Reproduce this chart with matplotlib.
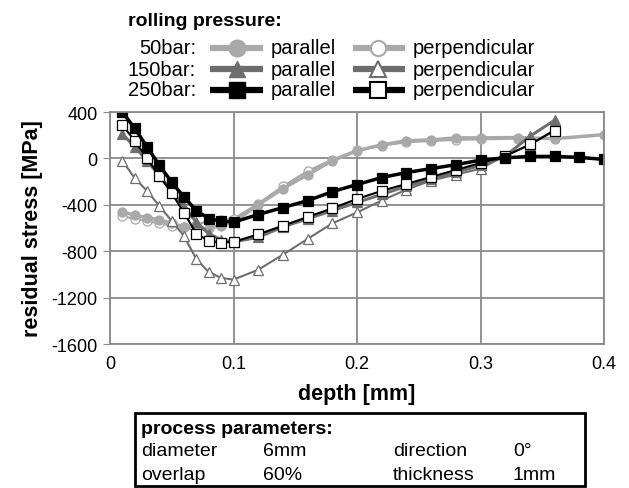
import numpy as np
import matplotlib
matplotlib.use("Agg")
import matplotlib.pyplot as plt
from matplotlib.lines import Line2D
from matplotlib.patches import Rectangle

plt.rcParams['font.family'] = ['Liberation Sans', 'DejaVu Sans']
plt.rcParams['axes.unicode_minus'] = False

# depth points [mm]
d_fine = [0.01, 0.02, 0.03, 0.04, 0.05, 0.06, 0.07, 0.08, 0.09, 0.10]
d_250_par = d_fine + [0.12, 0.14, 0.16, 0.18, 0.20, 0.22, 0.24, 0.26, 0.28, 0.30,
                      0.32, 0.34, 0.36, 0.38, 0.40]
d_to_036 = d_fine + [0.12, 0.14, 0.16, 0.18, 0.20, 0.22, 0.24, 0.26, 0.28, 0.30,
                     0.32, 0.34, 0.36]
d_50_par = d_fine + [0.12, 0.14, 0.16, 0.18, 0.20, 0.22, 0.24, 0.26, 0.28, 0.30,
                     0.33, 0.36, 0.40]
d_50_perp = d_fine + [0.12, 0.14, 0.16, 0.18, 0.20, 0.22, 0.24, 0.26, 0.28, 0.30,
                      0.33, 0.36]

# residual stress [MPa]
s_50_par = [-460, -490, -510, -530, -560, -590, -610, -600, -580, -550,
            -400, -260, -140, -20, 66, 117, 152, 160, 177, 177, 180, 170, 205]
s_50_perp = [-500, -520, -540, -560, -580, -590, -570, -540, -530, -520,
             -390, -240, -110, -10, 70, 110, 140, 150, 160, 165, 170, 175]
s_150_par = [210, 100, -20, -150, -280, -420, -550, -650, -700, -720,
             -680, -590, -520, -450, -380, -310, -240, -180, -120, -60, 20, 190, 330]
s_150_perp = [-20, -170, -280, -410, -540, -670, -870, -980, -1030, -1045,
              -960, -830, -694, -560, -466, -363, -269, -191, -140, -89, 23, 117, 246]
s_250_par = [400, 260, 100, -60, -205, -335, -450, -520, -540, -550,
             -484, -424, -364, -287, -225, -165, -122, -88, -54, -15, 5, 17, 17, 9, -9]
s_250_perp = [290, 150, 0, -150, -300, -470, -650, -710, -725, -720,
              -655, -580, -505, -430, -350, -280, -220, -160, -100, -40, 20, 120, 240]

x_ticks = [0, 0.1, 0.2, 0.3, 0.4]
x_labels = ['0', '0.1', '0.2', '0.3', '0.4']
y_ticks = [-1600, -1200, -800, -400, 0, 400]

c50 = '#a9a9a9'
c150 = '#6e6e6e'
c250 = '#000000'

# (x, y, colour, marker, fill, line width) - drawing order
series = [
    (d_50_perp, s_50_perp, c50, 'o', 'white', 1.6),
    (d_50_par, s_50_par, c50, 'o', c50, 2.5),
    (d_to_036, s_150_perp, c150, '^', 'white', 1.5),
    (d_to_036, s_150_par, c150, '^', c150, 2.2),
    (d_to_036, s_250_perp, c250, 's', 'white', 1.5),
    (d_250_par, s_250_par, c250, 's', c250, 2.5),
]

fig = plt.figure(figsize=(6.29, 4.89), dpi=100)
ax = fig.add_axes([110 / 629, 1 - 345 / 489, 494 / 629, 232 / 489])

for x, y, col, mk, fc, lw in series:
    ax.plot(x, y, color=col, lw=lw, marker=mk, ms=6.5, mfc=fc, mec=col, mew=0.9)

ax.set_xlim(0, 0.4)
ax.set_ylim(-1600, 400)
ax.set_xticks(x_ticks)
ax.set_xticklabels(x_labels)
ax.set_yticks(y_ticks)
ax.grid(True, color='#8a8a8a', lw=1.3)
ax.set_axisbelow(True)
for sp in ax.spines.values():
    sp.set_color('#8a8a8a')
    sp.set_linewidth(1.3)
ax.tick_params(axis='x', length=0, labelsize=13, pad=8)
ax.tick_params(axis='y', length=5, color='#8a8a8a', labelsize=13, pad=4)
ax.set_xlabel('depth [mm]', fontsize=15.5, fontweight='bold', labelpad=8)
ax.set_ylabel('residual stress [MPa]', fontsize=15.5, fontweight='bold', labelpad=6)

# overlay in pixel coordinates for legend and parameter box
ov = fig.add_axes([0, 0, 1, 1])
ov.set_xlim(0, 629)
ov.set_ylim(489, 0)
ov.axis('off')

ov.text(128, 22, 'rolling pressure:', fontsize=14, fontweight='bold', va='center')
rows = [('50bar:', c50, 'o', 49), ('150bar:', c150, '^', 70), ('250bar:', c250, 's', 91)]
for lab, col, mk, yy in rows:
    ov.text(196, yy, lab, fontsize=14.5, ha='right', va='center')
    ov.add_line(Line2D([210, 263], [yy, yy], color=col, lw=4.5, solid_capstyle='butt'))
    ov.plot([237], [yy], marker=mk, ms=12, color=col, mec=col)
    ov.text(271, yy, 'parallel', fontsize=14.5, va='center')
    ov.add_line(Line2D([353, 405], [yy, yy], color=col, lw=4.5, solid_capstyle='butt'))
    ov.plot([378], [yy], marker=mk, ms=11, mfc='white', mec=col, mew=1.5)
    ov.text(413, yy, 'perpendicular', fontsize=14.5, va='center')

ov.add_patch(Rectangle((135, 414), 450, 73, fill=False, ec='black', lw=2))
ov.text(141, 429, 'process parameters:', fontsize=14, fontweight='bold', va='center')
ov.text(141, 452, 'diameter', fontsize=14, va='center')
ov.text(263, 452, '6mm', fontsize=14, va='center')
ov.text(393, 452, 'direction', fontsize=14, va='center')
ov.text(513, 452, '0°', fontsize=14, va='center')
ov.text(141, 475, 'overlap', fontsize=14, va='center')
ov.text(263, 475, '60%', fontsize=14, va='center')
ov.text(393, 475, 'thickness', fontsize=14, va='center')
ov.text(513, 475, '1mm', fontsize=14, va='center')

fig.savefig('out.png', dpi=100)
